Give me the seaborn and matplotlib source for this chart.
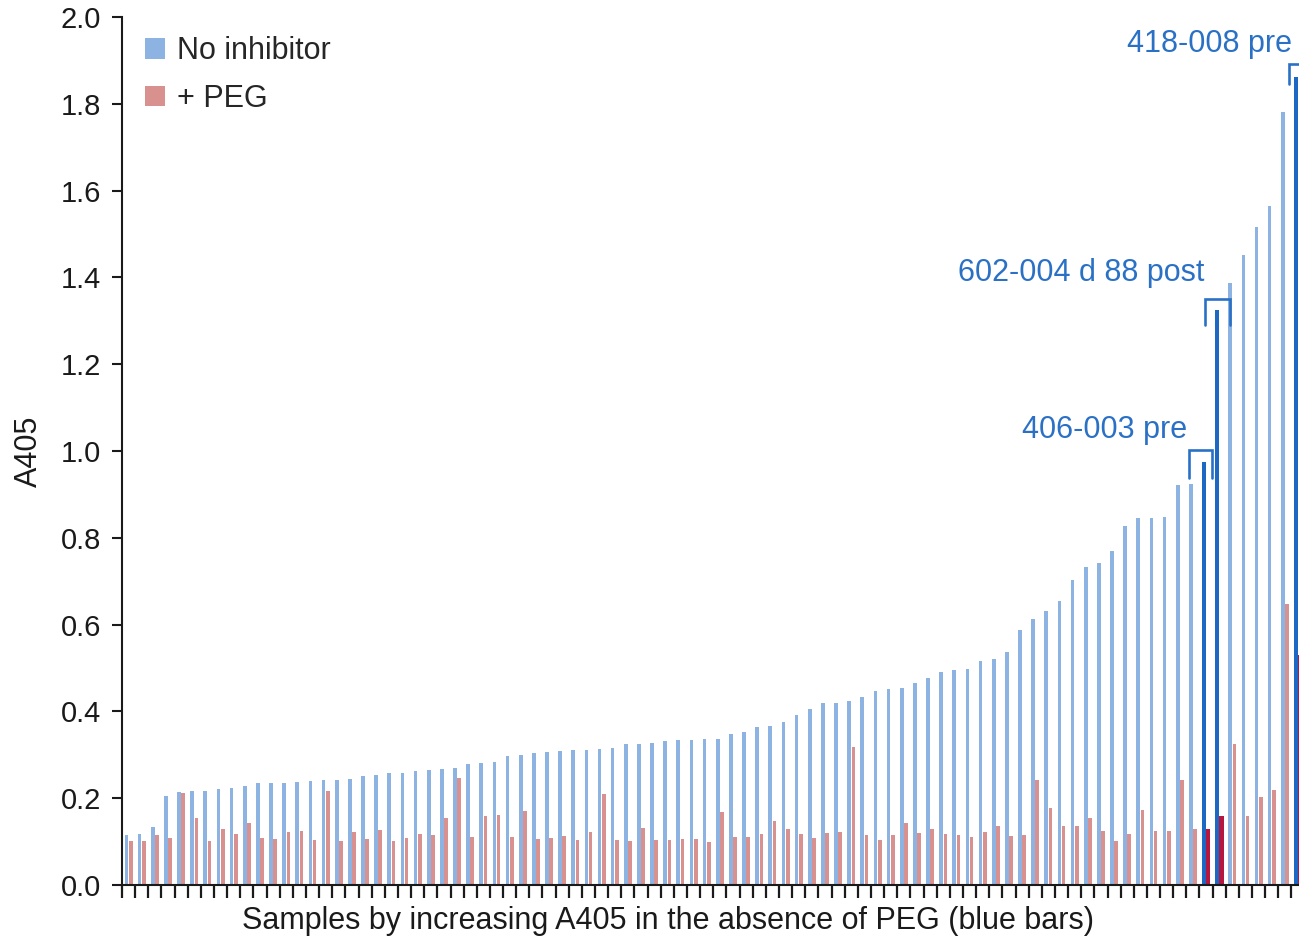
import numpy as np
import pandas as pd
import matplotlib
matplotlib.use("Agg")
import matplotlib.pyplot as plt
import seaborn as sns

# A405 per sample, ranked by the value without inhibitor
no_inhibitor = [
    0.115, 0.117, 0.134, 0.205, 0.214, 0.217, 0.217, 0.222, 0.224, 0.227,
    0.234, 0.234, 0.236, 0.237, 0.240, 0.242, 0.242, 0.245, 0.251, 0.253,
    0.257, 0.258, 0.262, 0.265, 0.268, 0.269, 0.279, 0.282, 0.284, 0.298,
    0.300, 0.303, 0.306, 0.309, 0.310, 0.311, 0.313, 0.316, 0.324, 0.324,
    0.328, 0.332, 0.333, 0.334, 0.336, 0.337, 0.349, 0.352, 0.364, 0.366,
    0.375, 0.392, 0.406, 0.420, 0.420, 0.425, 0.433, 0.447, 0.452, 0.455,
    0.465, 0.478, 0.491, 0.495, 0.497, 0.515, 0.520, 0.538, 0.588, 0.613,
    0.632, 0.655, 0.703, 0.732, 0.742, 0.770, 0.828, 0.846, 0.846, 0.849,
    0.921, 0.923, 0.975, 1.325, 1.387, 1.452, 1.515, 1.565, 1.782, 1.862,
]
with_peg = [
    0.102, 0.102, 0.116, 0.109, 0.211, 0.154, 0.101, 0.130, 0.117, 0.144,
    0.109, 0.107, 0.121, 0.125, 0.103, 0.217, 0.101, 0.123, 0.105, 0.127,
    0.102, 0.108, 0.118, 0.116, 0.154, 0.247, 0.110, 0.158, 0.161, 0.110,
    0.171, 0.105, 0.109, 0.113, 0.104, 0.121, 0.209, 0.103, 0.102, 0.132,
    0.103, 0.103, 0.107, 0.105, 0.100, 0.169, 0.110, 0.111, 0.118, 0.148,
    0.128, 0.117, 0.108, 0.119, 0.123, 0.319, 0.115, 0.104, 0.115, 0.144,
    0.119, 0.129, 0.117, 0.115, 0.110, 0.121, 0.137, 0.114, 0.115, 0.243,
    0.177, 0.137, 0.135, 0.155, 0.125, 0.102, 0.118, 0.173, 0.125, 0.125,
    0.242, 0.129, 0.129, 0.160, 0.325, 0.160, 0.203, 0.218, 0.647, 0.530,
]
ranks = list(range(1, len(no_inhibitor) + 1))
series_names = ["No inhibitor", "+ PEG"]

# Named samples (rank -> label) that are highlighted in darker colours
highlight_ranks = [83, 84, 90]
highlight_labels = ["406-003 pre", "602-004 d 88 post", "418-008 pre"]

y_ticks = [0.0, 0.2, 0.4, 0.6, 0.8, 1.0, 1.2, 1.4, 1.6, 1.8, 2.0]
x_label = "Samples by increasing A405 in the absence of PEG (blue bars)"
y_label = "A405"

light_blue = "#8DB3E2"
salmon = "#D8918F"
dark_blue = "#1C68C3"
dark_red = "#B5173F"
note_color = "#2A71C6"

df = pd.DataFrame({
    "rank": ranks * 2,
    "condition": [series_names[0]] * len(ranks) + [series_names[1]] * len(ranks),
    "A405": no_inhibitor + with_peg,
})

sns.set_style("ticks")
plt.rcParams["font.family"] = ["Liberation Sans", "DejaVu Sans"]

fig = plt.figure(figsize=(12.99, 9.39), dpi=100)
W, H = 1299.0, 939.0
ax_left_px, ax_bottom_px, ax_top_px = 122.0, 885.0, 17.0
group_px = 13.14
ax = fig.add_axes([ax_left_px / W, (H - ax_bottom_px) / H,
                   len(ranks) * group_px / W, (ax_bottom_px - ax_top_px) / H])

sns.barplot(data=df, x="rank", y="A405", hue="condition",
            hue_order=series_names, palette=[light_blue, salmon],
            width=0.64, gap=0.12, saturation=1, linewidth=0,
            dodge=True, ax=ax)

# Darker colours for the named samples
for cont, col in zip(ax.containers, [dark_blue, dark_red]):
    for r in highlight_ranks:
        p = cont.patches[ranks.index(r)]
        p.set_facecolor(col)
        w = p.get_width()
        p.set_x(p.get_x() - 0.1 * w)
        p.set_width(1.2 * w)

ax.set_xlim(-0.5, len(ranks) - 0.5)
ax.set_ylim(0, 2.0)
ax.set_yticks(y_ticks)
ax.set_yticklabels([f"{v:.1f}" for v in y_ticks])
ax.set_xticks(np.arange(len(ranks) + 1) - 0.5)
ax.set_xticklabels([])

for side in ["top", "right"]:
    ax.spines[side].set_visible(False)
for side in ["left", "bottom"]:
    ax.spines[side].set_linewidth(1.5)
    ax.spines[side].set_color("#1a1a1a")
ax.tick_params(axis="y", length=7, width=1.5, pad=8, labelsize=21,
               color="#1a1a1a", labelcolor="#1a1a1a")
ax.tick_params(axis="x", length=9, width=1.6, color="#1a1a1a")

ax.set_xlabel(x_label, fontsize=22, color="#1a1a1a")
ax.set_ylabel(y_label, fontsize=22, color="#1a1a1a")
ax.xaxis.set_label_coords(0.4617, -0.024)
ax.yaxis.set_label_coords(-0.066, 0.5)

handles, labels = ax.get_legend_handles_labels()
ax.legend(handles, labels, loc="upper left", bbox_to_anchor=(0.0194, 0.978),
          frameon=False, fontsize=22, borderpad=0, borderaxespad=0,
          handlelength=0.66, handleheight=0.66, handletextpad=0.4,
          labelspacing=0.58)

# Brackets with sample names: (left leg x, right leg x, top y, leg bottom y, text x, text y)
brackets = [
    (80.7, 82.45, 1.002, 0.938, 80.55, 1.048),
    (81.9, 83.8, 1.350, 1.290, 81.84, 1.410),
    (88.3, 90.3, 1.891, 1.845, 88.55, 1.938),
]
for (x0, x1, yt, yb, tx, ty), name in zip(brackets, highlight_labels):
    ax.plot([x0, x0, x1, x1], [yb, yt, yt, yb], color=note_color,
            lw=1.9, solid_joinstyle="miter", clip_on=False)
    ax.text(tx, ty, name, ha="right", va="center", fontsize=22, color=note_color)

fig.savefig("out.png", dpi=100)
